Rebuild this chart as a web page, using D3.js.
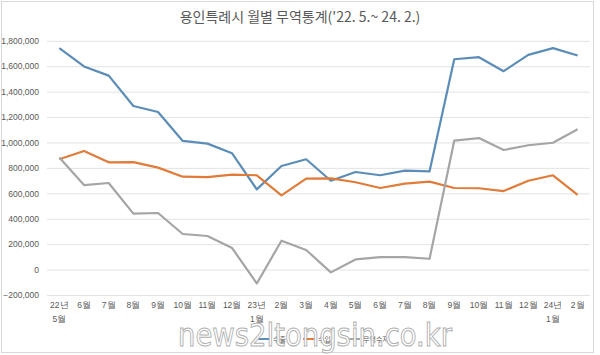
<!DOCTYPE html>
<html><head><meta charset="utf-8">
<script src="https://cdn.jsdelivr.net/npm/d3@7"></script>
<style>
html,body{margin:0;padding:0;background:#fff;}
svg{display:block;font-family:"Noto Sans CJK KR","Noto Sans",sans-serif;}
</style></head>
<body>
<svg id="c" width="600" height="355"></svg>
<script>
const categories = [["22년","5월"],["6월"],["7월"],["8월"],["9월"],["10월"],["11월"],["12월"],["23년","1월"],["2월"],["3월"],["4월"],["5월"],["6월"],["7월"],["8월"],["9월"],["10월"],["11월"],["12월"],["24년","1월"],["2월"]];
const exportVals = [1742000,1598000,1526000,1287000,1240000,1012000,991000,915000,631000,815000,868000,699000,768000,742000,778000,773000,1655000,1671000,1561000,1689000,1742000,1684000];
const importVals = [868000,933000,844000,846000,802000,731000,728000,747000,742000,584000,715000,718000,687000,642000,676000,692000,642000,640000,618000,699000,742000,587000];
const balanceVals = [881000,665000,681000,440000,445000,280000,264000,169000,-109000,227000,154000,-22000,80000,98000,98000,85000,1014000,1035000,941000,978000,998000,1104000];
const yTicks = [-200000,0,200000,400000,600000,800000,1000000,1200000,1400000,1600000,1800000];
const seriesNames = ["수출","수입","무역수지"];
const colors = ["#5b8db8","#e07b39","#a5a5a5"];
const title = "용인특례시 월별 무역통계('22. 5.~ 24. 2.)";

const svg = d3.select("#c");
svg.append("rect").attr("x",1.5).attr("y",1.5).attr("width",592).attr("height",351)
  .attr("fill","#fff").attr("stroke","#d9d9d9");

const x = d3.scaleBand().domain(d3.range(categories.length)).range([47,590]);
const y = d3.scaleLinear().domain([-200000,1800000]).range([295,40.8]);

const fmt = d3.format(",");
const yAxis = d3.axisLeft(y).tickValues(yTicks).tickSize(-(590-47)).tickFormat(d=>fmt(d)).tickPadding(8);
const gy = svg.append("g").attr("transform","translate(47,0)").call(yAxis);
gy.select(".domain").remove();
gy.selectAll(".tick line").attr("stroke","#e3e3e3").attr("stroke-width",1);
gy.selectAll(".tick text").attr("fill","#595959").attr("font-size",8.5).attr("font-family","'Liberation Sans',sans-serif");

const xAxis = d3.axisBottom(x).tickSize(0).tickFormat(()=>"");
const gx = svg.append("g").attr("transform","translate(0,295)").call(xAxis);
gx.select(".domain").remove();
gx.selectAll(".tick").each(function(i){
  const t = d3.select(this).append("text").attr("fill","#595959").attr("font-size",8.5).attr("text-anchor","middle");
  categories[i].forEach((s,k)=>{
    t.append("tspan").attr("x",0).attr("y",13+k*14).text(s);
  });
});

svg.append("text").attr("x",300).attr("y",22).attr("text-anchor","middle")
  .attr("font-size",14).attr("fill","#595959").text(title);

const line = d3.line().x((d,i)=>x(i)+x.bandwidth()/2).y(d=>y(d));
[exportVals,importVals,balanceVals].forEach((vals,k)=>{
  svg.append("path").datum(vals).attr("d",line).attr("fill","none")
    .attr("stroke",colors[k]).attr("stroke-width",2.2).attr("stroke-linejoin","round");
});

// legend (mostly hidden under watermark)
const lg = svg.append("g").attr("transform","translate(258,342)");
seriesNames.forEach((n,k)=>{
  const g = lg.append("g").attr("transform",`translate(${k*45},0)`);
  g.append("line").attr("x1",0).attr("x2",12).attr("y1",-3).attr("y2",-3).attr("stroke",colors[k]).attr("stroke-width",2);
  g.append("text").attr("x",15).attr("y",0).attr("font-size",7).attr("fill","#595959").text(n);
});

// watermark
svg.append("text").attr("x",178).attr("y",346)
  .attr("font-size",32).attr("font-family","'DejaVu Sans',sans-serif")
  .attr("textLength",274).attr("lengthAdjust","spacingAndGlyphs")
  .attr("fill","#ffffff").attr("fill-opacity",0.85).attr("stroke","#b0b0b0").attr("stroke-width",1)
  .text("news2ltongsin.co.kr");
</script>
</body></html>
